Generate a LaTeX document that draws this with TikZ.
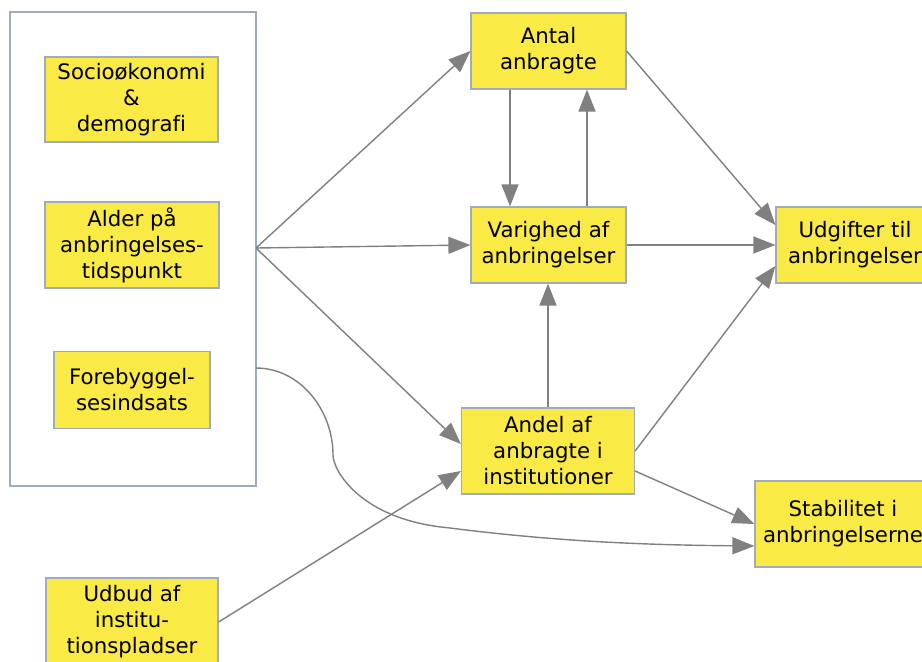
\documentclass[tikz,border=0pt]{standalone}
\usepackage{fontspec}
\setmainfont[Ligatures=NoCommon]{DejaVu Sans}
\usetikzlibrary{arrows.meta}
\definecolor{boxfill}{RGB}{250,234,70}
\definecolor{boxline}{RGB}{160,172,186}
\definecolor{edgecol}{RGB}{128,128,128}
\begin{document}
\begin{tikzpicture}[x=1pt,y=-1pt,
  ybox/.style={draw=boxline, line width=1.2pt, fill=boxfill, align=center, inner sep=0pt,
    font=\fontsize{21.3}{26}\selectfont},
  conn/.style={draw=edgecol, line width=1.4pt, -{Triangle[length=22pt,width=17pt]}}]
\useasboundingbox (0,0) rectangle (922,662);
\clip (0,0) rectangle (922,662);
\fill[white] (0,0) rectangle (922,662);
\node[draw=boxline, line width=1.2pt, minimum width=246pt, minimum height=474pt, inner sep=0pt] (group) at (133,249) {};
\node[ybox, minimum width=173pt, minimum height=85pt] (socio) at (131.5,99.5) {Socioøkonomi\\\&\\demografi};
\node[ybox, minimum width=174pt, minimum height=86pt] (alder) at (132,245) {Alder på\\anbringelses-\\tidspunkt};
\node[ybox, minimum width=156pt, minimum height=77pt] (fore) at (132,390) {Forebyggel-\\sesindsats};
\node[ybox, minimum width=155pt, minimum height=76pt] (antal) at (548.5,51) {Antal\\anbragte};
\node[ybox, minimum width=155pt, minimum height=76pt] (varig) at (548.5,245) {Varighed af\\anbringelser};
\node[ybox, minimum width=173pt, minimum height=86pt] (andel) at (548,451) {Andel af\\anbragte i\\institutioner};
\node[ybox, minimum width=158pt, minimum height=76pt] (udg) at (855,245) {Udgifter til\\anbringelser};
\node[ybox, minimum width=176pt, minimum height=86pt] (stab) at (843,524) {Stabilitet i\\anbringelserne};
\node[ybox, minimum width=172pt, minimum height=88pt] (udbud) at (132,622) {Udbud af\\institu-\\tionspladser};
\coordinate (src) at (256,248);
\coordinate (fsrc) at (256,368);
\coordinate (bend) at (333,455);
\draw[conn] (src) -- (antal.west);
\draw[conn] (src) -- (varig.west);
\draw[conn] (src) -- ([yshift=7pt]andel.west);
\draw[conn] (udbud.east) -- ([yshift=-20pt]andel.west);
\draw[conn] ([xshift=-38.5pt]antal.south) -- ([xshift=-38.5pt]varig.north);
\draw[conn] ([xshift=38.5pt]varig.north) -- ([xshift=38.5pt]antal.south);
\draw[conn] (andel.north) -- (andel.north |- varig.south);
\draw[conn] (antal.east) -- ([yshift=20pt]udg.west);
\draw[conn] (varig.east) -- (udg.west);
\draw[conn] (andel.east) -- ([yshift=-21pt]udg.west);
\draw[conn] ([yshift=-20pt]andel.east) -- (stab.west);
\draw[conn] (fsrc) .. controls (300,368) and (333,410) .. (bend)
  .. controls (333,470) and (360,520) .. (450,528)
  .. controls (560,542) and (650,545) .. ([yshift=-22pt]stab.west);
\end{tikzpicture}
\end{document}
